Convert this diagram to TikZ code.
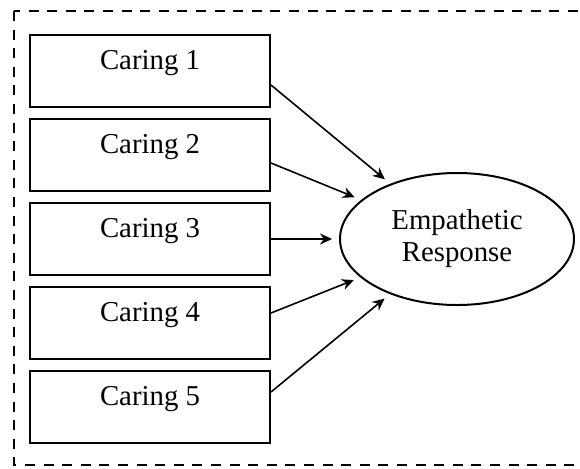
\documentclass[tikz,border=0pt]{standalone}
\usepackage{fontspec}
\setmainfont{Liberation Serif}
\usetikzlibrary{positioning, arrows.meta, shapes.geometric}
\newcommand{\caringarrow}{-{Stealth[length=6pt,width=5.5pt]}}
\tikzset{
    caringbox/.style={draw, line width=1pt, minimum width=120pt, minimum height=36pt,
        inner sep=0pt, text height=9.7pt, text depth=11.7pt},
    responsenode/.style={draw, ellipse, line width=1pt, minimum width=117pt,
        minimum height=66pt, inner sep=0pt, align=center},
    caringline/.style={\caringarrow, line width=0.8pt, shorten >=3.5pt}
}

\begin{document}
\begin{tikzpicture}[font=\fontsize{14.4}{16}\selectfont]
        \useasboundingbox (0,0) rectangle (290pt,-234pt);
        \draw[dashed, line width=1pt, dash pattern=on 5pt off 4.3pt]
            (7pt,-5.5pt) rectangle (293pt,-232.5pt);
        \node[caringbox] (c1) at (75pt,-35.5pt) { Caring 1 };
        \node[caringbox, below=5pt of c1] (c2) { Caring 2 };
        \node[caringbox, below=5pt of c2] (c3) { Caring 3 };
        \node[caringbox, below=5pt of c3] (c4) { Caring 4 };
        \node[caringbox, below=5pt of c4] (c5) { Caring 5 };
        \node[responsenode] (resp) at (228.5pt,-119.5pt) { Empathetic\\Response };
        \foreach \i/\dy in {1/-7,2/-4,3/0,4/5,5/7.5}
            \draw[caringline] ([yshift=\dy pt]c\i.east) -- (resp);
    \end{tikzpicture}
\end{document}
